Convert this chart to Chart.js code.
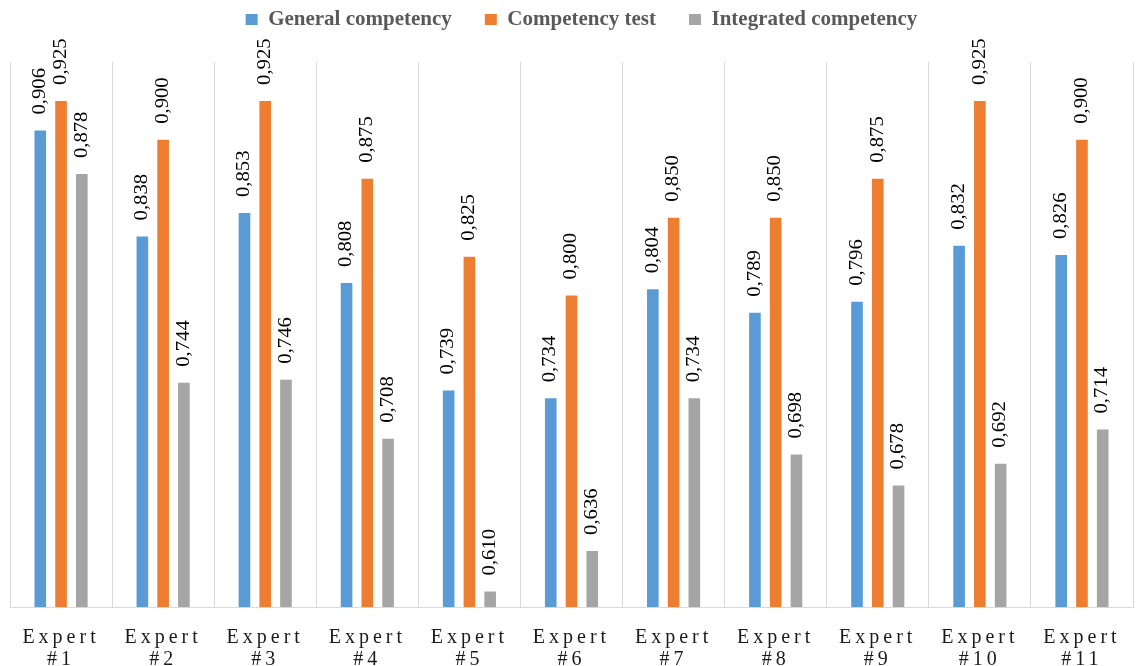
<!DOCTYPE html>
<html>
<head>
<meta charset="utf-8">
<script src="https://cdn.jsdelivr.net/npm/chart.js@4"></script>
<style>
  html, body { margin: 0; padding: 0; background: #fff; }
  #wrap { width: 1137px; height: 666px; position: relative; }
</style>
</head>
<body>
<div id="wrap"><canvas id="chart"></canvas></div>
<script>
// Categories and series
const experts = [['Expert', '#1'], ['Expert', '#2'], ['Expert', '#3'], ['Expert', '#4'], ['Expert', '#5'], ['Expert', '#6'],
    ['Expert', '#7'], ['Expert', '#8'], ['Expert', '#9'], ['Expert', '#10'], ['Expert', '#11']];
const generalCompetency = [0.906, 0.838, 0.853, 0.808, 0.739, 0.734, 0.804, 0.789, 0.796, 0.832, 0.826];
const competencyTest = [0.925, 0.900, 0.925, 0.875, 0.825, 0.800, 0.850, 0.850, 0.875, 0.925, 0.900];
const integratedCompetency = [0.878, 0.744, 0.746, 0.708, 0.610, 0.636, 0.734, 0.698, 0.678, 0.692, 0.714];

const serif = '"Liberation Serif", "Times New Roman", serif';

// Rotated value labels above every bar
const valueLabels = {
    id: 'valueLabels',
    afterDatasetsDraw(chart) {
        const ctx = chart.ctx;
        ctx.save();
        ctx.font = '18px ' + serif;
        ctx.fillStyle = '#000';
        ctx.textAlign = 'left';
        ctx.textBaseline = 'middle';
        chart.data.datasets.forEach((ds, i) => {
            chart.getDatasetMeta(i).data.forEach((bar, j) => {
                ctx.save();
                ctx.translate(bar.x, bar.y - 16);
                ctx.rotate(-Math.PI / 2);
                ctx.scale(1.15, 1);
                ctx.fillText(ds.data[j].toFixed(3).replace('.', ','), 0, 0);
                ctx.restore();
            });
        });
        ctx.restore();
    }
};

// Legend placement and letter-spaced category labels
const tweaks = {
    id: 'tweaks',
    afterInit(chart) {
        const lg = chart.legend;
        const fit = lg.fit;
        lg.fit = function () {
            fit.call(this);
            this.height -= 2;
        };
    },
    afterLayout(chart) {
        const lg = chart.legend;
        lg.left += 10;
        lg.right += 10;
        lg.top -= 24;
        lg.bottom -= 24;
        const s = chart.scales.x;
        if (s._spaced) return;
        const orig = s.drawLabels.bind(s);
        s.drawLabels = (area) => {
            chart.ctx.save();
            chart.ctx.letterSpacing = '4px';
            orig(area);
            chart.ctx.restore();
        };
        s._spaced = true;
    }
};

const ctx = document.getElementById('chart').getContext('2d');
new Chart(ctx, {
    type: 'bar',
    data: {
        labels: experts,
        datasets: [
            { label: 'General competency', data: generalCompetency, backgroundColor: '#5B9BD5' },
            { label: 'Competency test', data: competencyTest, backgroundColor: '#ED7D31' },
            { label: 'Integrated competency', data: integratedCompetency, backgroundColor: '#A5A5A5' }
        ]
    },
    options: {
        responsive: true,
        maintainAspectRatio: false,
        animation: false,
        datasets: {
            bar: { categoryPercentage: 0.61, barPercentage: 0.56 }
        },
        layout: { padding: { left: 10, right: 4, top: 0, bottom: 0 } },
        scales: {
            x: {
                grid: { color: '#d9d9d9', offset: true, drawTicks: false },
                border: { color: '#d9d9d9' },
                ticks: {
                    color: '#1a1a1a',
                    font: { family: serif, size: 20, lineHeight: 1.1 },
                    padding: 20,
                    maxRotation: 0,
                    autoSkip: false
                },
                afterFit(scale) {
                    scale.height = 59;
                }
            },
            y: {
                display: false,
                min: 0.6,
                max: 0.95
            }
        },
        plugins: {
            legend: {
                position: 'top',
                labels: {
                    boxWidth: 12,
                    boxHeight: 11,
                    color: '#595959',
                    font: { family: serif, size: 21, weight: 'bold' },
                    padding: 33
                }
            },
            tooltip: { enabled: false }
        }
    },
    plugins: [valueLabels, tweaks]
});
</script>
</body>
</html>
